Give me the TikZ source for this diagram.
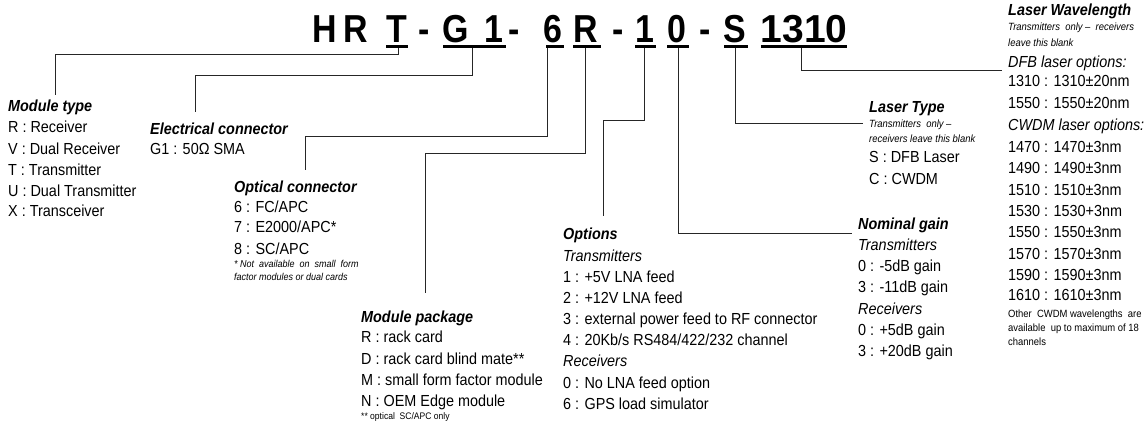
\documentclass[tikz,border=0pt]{standalone}
\usepackage{fontspec}
\setmainfont{Liberation Sans}[FakeStretch=0.9]
\newfontfamily\titlefont{Liberation Sans}[FakeStretch=0.87]
\newfontfamily\titlefontw{Liberation Sans}
\begin{document}
\begin{tikzpicture}[x=1pt,y=-1pt,
  ttl/.style={anchor=base, inner sep=0pt, font=\titlefont\fontsize{39}{40}\selectfont\bfseries},
  ul/.style={fill=black, draw=none, inner sep=0pt, minimum height=3pt},
  hd/.style={anchor=base west, inner sep=0pt, font=\fontsize{16}{18}\selectfont\bfseries\itshape},
  it/.style={anchor=base west, inner sep=0pt, font=\fontsize{16}{18}\selectfont},
  sub/.style={anchor=base west, inner sep=0pt, font=\fontsize{16}{18}\selectfont\itshape},
  note/.style={anchor=base west, inner sep=0pt, font=\fontsize{10.5}{12}\selectfont\itshape},
  unote/.style={anchor=base west, inner sep=0pt, font=\fontsize{10.5}{12}\selectfont},
  con/.style={line width=1pt, draw=black!85}]
\useasboundingbox (0,0) rectangle (1147,428);
% title
\node[ttl] (tH) at (324.5,42) {H};
\node[ttl] (tR) at (356,42) {R};
\node[ttl] (tT) at (397,42) {T};
\node[ttl] (d1) at (424.5,42) {-};
\node[ttl] (tG) at (456,42) {G};
\node[ttl] (tG1) at (494,42) {1};
\node[ttl] (d2) at (514,42) {-};
\node[ttl] (t6) at (553,42) {6};
\node[ttl] (tR2) at (585.6,42) {R};
\node[ttl] (d3) at (618,42) {-};
\node[ttl] (t1) at (645,42) {1};
\node[ttl] (t0) at (677,42) {0};
\node[ttl] (d4) at (705,42) {-};
\node[ttl] (tS) at (735,42) {S};
\node[ttl, font=\titlefontw\fontsize{39}{40}\selectfont\bfseries] (tW) at (804,42) {1310};
% underlines
\node[ul, minimum width=22pt] (uT) at (396.7,46.5) {};
\node[ul, minimum width=63pt] (uG) at (474.5,46.5) {};
\node[ul, minimum width=18pt] (u6) at (555.2,46.5) {};
\node[ul, minimum width=28pt] (uR) at (586.5,46.5) {};
\node[ul, minimum width=21pt] (u1) at (645.3,46.5) {};
\node[ul, minimum width=22pt] (u0) at (678,46.5) {};
\node[ul, minimum width=24pt] (uS) at (735.5,46.5) {};
\node[ul, minimum width=86pt] (uW) at (803.7,46.5) {};
% Module type
\node[hd] (hMT) at (8,111) {Module type};
\node[it] (mt1) at (8,132.5) {R : Receiver};
\node[it] (mt2) at (8,154) {V : Dual Receiver};
\node[it] (mt3) at (8,175) {T : Transmitter};
\node[it] (mt4) at (8,196) {U : Dual Transmitter};
\node[it] (mt5) at (8,216.5) {X : Transceiver};
% Electrical connector
\node[hd] (hEC) at (150,134) {Electrical connector};
\node[it] (ec1) at (150,154) {G1 : 50\symbol{"03A9} SMA};
% Optical connector
\node[hd] (hOC) at (234,192) {Optical connector};
\node[it] (oc1) at (234,212.5) {6 : FC/APC};
\node[it] (oc2) at (234,232.5) {7 : E2000/APC*};
\node[it] (oc3) at (234,254) {8 : SC/APC};
\node[note, font=\fontsize{10}{12}\selectfont\itshape] (ocn1) at (234,267) {*\ Not\ \ available\ \ on\ \ small\ \ form};
\node[note, font=\fontsize{10}{12}\selectfont\itshape] (ocn2) at (234,280) {factor modules or dual cards};
% Module package
\node[hd] (hMP) at (361,322) {Module package};
\node[it] (mp1) at (361,342.5) {R : rack card};
\node[it] (mp2) at (361,364) {D : rack card blind mate**};
\node[it] (mp3) at (361,385) {M : small form factor module};
\node[it] (mp4) at (361,406) {N : OEM Edge module};
\node[unote, font=\fontsize{9.5}{11}\selectfont] (mpn) at (361,419.5) {** optical\ \ SC/APC only};
% Options
\node[hd] (hOP) at (563,239) {Options};
\node[sub] (op0) at (563,261) {Transmitters};
\node[it] (op1) at (563,282.5) {1 : +5V LNA feed};
\node[it] (op2) at (563,303) {2 : +12V LNA feed};
\node[it] (op3) at (563,324) {3 : external power feed to RF connector};
\node[it] (op4) at (563,345) {4 : 20Kb/s RS484/422/232 channel};
\node[sub] (op5) at (563,366.5) {Receivers};
\node[it] (op6) at (563,388.5) {0 : No LNA feed option};
\node[it] (op7) at (563,409) {6 : GPS load simulator};
% Laser type
\node[hd] (hLT) at (869,112) {Laser Type};
\node[note] (lt0) at (869,127) {Transmitters\ \ only \textendash};
\node[note] (lt1) at (869,142) {receivers leave this blank};
\node[it] (lt2) at (869,162.5) {S : DFB Laser};
\node[it] (lt3) at (869,184) {C : CWDM};
% Nominal gain
\node[hd] (hNG) at (858,229) {Nominal gain};
\node[sub] (ng0) at (858,250) {Transmitters};
\node[it] (ng1) at (858,271) {0 : -5dB gain};
\node[it] (ng2) at (858,292.5) {3 : -11dB gain};
\node[sub] (ng3) at (858,314) {Receivers};
\node[it] (ng4) at (858,335) {0 : +5dB gain};
\node[it] (ng5) at (858,356) {3 : +20dB gain};
% Laser wavelength
\node[hd] (hLW) at (1008,16) {Laser Wavelength};
\node[note] (lw0) at (1008,31) {Transmitters\ \ only \textendash\ \ receivers};
\node[note] (lw1) at (1008,46) {leave this blank};
\node[sub] (lw2) at (1008,67) {DFB laser options:};
\node[it] (lw3) at (1008,86.5) {1310 : 1310\textpm20nm};
\node[it] (lw4) at (1008,108) {1550 : 1550\textpm20nm};
\node[sub] (lw5) at (1008,130) {CWDM laser options:};
\node[it] (lw6) at (1008,152) {1470 : 1470\textpm3nm};
\node[it] (lw7) at (1008,173) {1490 : 1490\textpm3nm};
\node[it] (lw8) at (1008,195) {1510 : 1510\textpm3nm};
\node[it] (lw9) at (1008,216) {1530 : 1530+3nm};
\node[it] (lw10) at (1008,237.5) {1550 : 1550\textpm3nm};
\node[it] (lw11) at (1008,259) {1570 : 1570\textpm3nm};
\node[it] (lw12) at (1008,280) {1590 : 1590\textpm3nm};
\node[it] (lw13) at (1008,300) {1610 : 1610\textpm3nm};
\node[unote] (lwn1) at (1008,317) {Other\ \ CWDM wavelengths\ \ are};
\node[unote] (lwn2) at (1008,331) {available\ \ up to maximum of 18};
\node[unote] (lwn3) at (1008,345) {channels};
% connector end points
\coordinate (eMT) at (55,95);
\coordinate (eEC) at (195,112);
\coordinate (eOC) at (305,170);
\coordinate (eMP) at (425,293);
\coordinate (eOP) at (603,216);
\coordinate (eNG) at (852,233);
\coordinate (eLT) at (863,123);
\coordinate (eLW) at (1002,70);
% connectors
\draw[con] (uT.south -| 398,0) -- (398,55) -| (eMT);
\draw[con] (uG.south -| 472,0) -- (472,75) -| (eEC);
\draw[con] (u6.south -| 547,0) -- (547,136) -| (eOC);
\draw[con] (uR.south -| 585,0) -- (585,153) -| (eMP);
\draw[con] (u1.south -| 644,0) -- (644,120) -| (eOP);
\draw[con] (u0.south -| 678,0) |- (eNG);
\draw[con] (uS.south -| 735,0) |- (eLT);
\draw[con] (uW.south -| 801,0) |- (eLW);
\end{tikzpicture}
\end{document}
